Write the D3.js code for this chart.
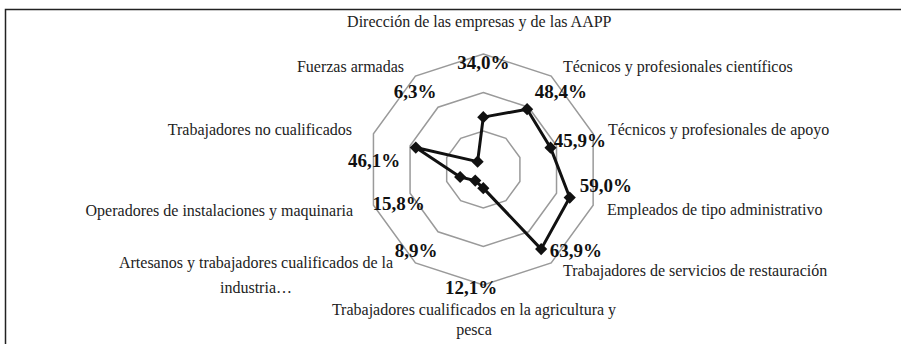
<!DOCTYPE html>
<html>
<head>
<meta charset="utf-8">
<script src="https://cdn.jsdelivr.net/npm/d3@7"></script>
<style>
  html, body { margin: 0; padding: 0; background: #fff; }
  svg { display: block; }
  .cat { font-family: "Liberation Serif", "Times New Roman", serif; font-size: 16px; fill: #222; }
  .val { font-family: "Liberation Serif", "Times New Roman", serif; font-size: 19px; font-weight: bold; fill: #111; }
</style>
</head>
<body>
<svg id="chart" width="901" height="344"></svg>
<script>
// Occupation groups, clockwise from the top
const categories = [
  "Dirección de las empresas y de las AAPP",
  "Técnicos y profesionales científicos",
  "Técnicos y profesionales de apoyo",
  "Empleados de tipo administrativo",
  "Trabajadores de servicios de restauración",
  "Trabajadores cualificados en la agricultura y\npesca",
  "Artesanos y trabajadores cualificados de la\nindustria…",
  "Operadores de instalaciones y maquinaria",
  "Trabajadores no cualificados",
  "Fuerzas armadas"
];

// Share per group (%)
const values = [34.0, 48.4, 45.9, 59.0, 63.9, 12.1, 8.9, 15.8, 46.1, 6.3];

// Radial grid levels (%)
const gridLevels = [25, 50, 75];

// Label placement relative to the chart centre: [dx, dy] (value labels are centred)
const valueLabelOffsets = [
  [0, -107.5], [77.7, -78.5], [96.7, -29.5], [122.7, 16], [92.7, 80.5],
  [-12.3, 118], [-67.3, 81], [-84.8, 34], [-109.3, -9], [-68.3, -78]
];
// Category labels: [anchor, dx, dy of first baseline, line spacing]
const categoryLabelLayout = [
  ["middle", -4, -142.5, 20],
  ["start", 79.7, -97.5, 20],
  ["start", 124.7, -34.5, 20],
  ["start", 123.7, 45.5, 20],
  ["start", 79.7, 106.5, 20],
  ["middle", -9.3, 145.5, 20],
  ["middle", -227.3, 98.5, 25],
  ["end", -130.3, 46.5, 20],
  ["end", -131.3, -34.5, 20],
  ["end", -79.3, -97.5, 20]
];

const svg = d3.select("#chart");
const cx = 483.3, cy = 169.5;

// Frame (left and top edges fall inside the view)
svg.append("path")
  .attr("d", "M5.5,344 V9.5 H901")
  .attr("fill", "none")
  .attr("stroke", "#222")
  .attr("stroke-width", 1.5);

const n = categories.length;
const angle = d3.scaleLinear().domain([0, n]).range([0, 2 * Math.PI]);
const r = d3.scaleLinear().domain([0, 75]).range([0, 115.5]);

const g = svg.append("g").attr("transform", `translate(${cx},${cy})`);

// Grid polygons
const ringLine = d3.lineRadial()
  .angle((d, i) => angle(i))
  .radius(d => r(d))
  .curve(d3.curveLinearClosed);

g.selectAll("path.ring")
  .data(gridLevels)
  .join("path")
  .attr("class", "ring")
  .attr("d", lvl => ringLine(d3.range(n).map(() => lvl)))
  .attr("fill", "none")
  .attr("stroke", "#9a9a9a")
  .attr("stroke-width", 1.5);

// Series line
const seriesLine = d3.lineRadial()
  .angle((d, i) => angle(i))
  .radius(d => r(d))
  .curve(d3.curveLinearClosed);

g.append("path")
  .attr("d", seriesLine(values))
  .attr("fill", "none")
  .attr("stroke", "#111")
  .attr("stroke-width", 3)
  .attr("stroke-linejoin", "round");

// Diamond markers
const pt = (v, i) => [Math.sin(angle(i)) * r(v), -Math.cos(angle(i)) * r(v)];
const diamond = d3.symbol().type(d3.symbolDiamond2).size(95);
g.selectAll("path.marker")
  .data(values)
  .join("path")
  .attr("class", "marker")
  .attr("transform", (v, i) => `translate(${pt(v, i)[0]},${pt(v, i)[1]})`)
  .attr("d", diamond)
  .attr("fill", "#111");

// Value labels
g.selectAll("text.val")
  .data(values)
  .join("text")
  .attr("class", "val")
  .attr("x", (v, i) => valueLabelOffsets[i][0])
  .attr("y", (v, i) => valueLabelOffsets[i][1])
  .attr("dy", "0.35em")
  .attr("text-anchor", "middle")
  .text(v => v.toFixed(1).replace(".", ",") + "%");

// Category labels
categories.forEach((name, i) => {
  const [anchor, dx, dy, lh] = categoryLabelLayout[i];
  const t = g.append("text")
    .attr("class", "cat")
    .attr("text-anchor", anchor)
    .attr("x", dx)
    .attr("y", dy);
  name.split("\n").forEach((line, k) => {
    t.append("tspan").attr("x", dx).attr("y", dy + k * lh).text(line);
  });
});
</script>
</body>
</html>
